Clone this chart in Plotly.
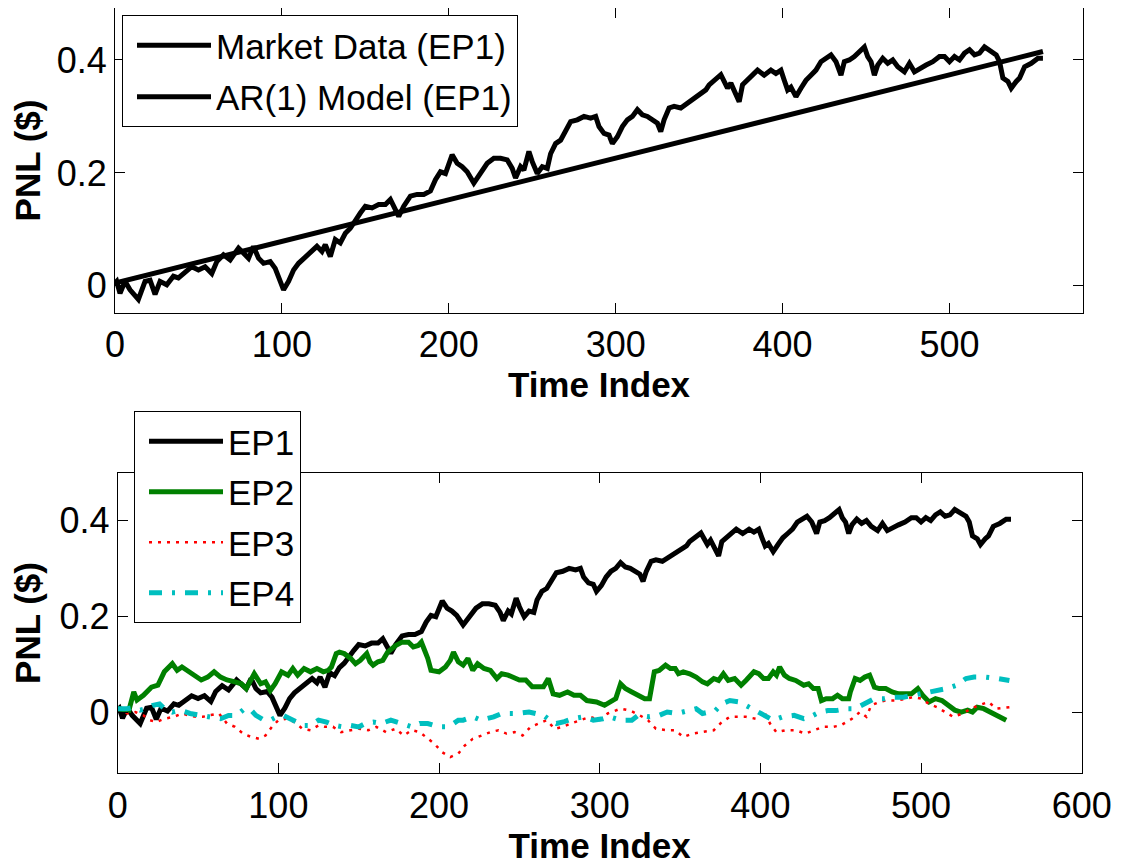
import plotly.graph_objects as go

# EP1 market PNL
ep1_t = [0, 1, 3, 6, 9, 14, 18, 21, 24, 27, 31, 35, 38, 43, 46, 50, 54, 58, 61, 65,
         69, 74, 77, 80, 83, 86, 89, 93, 96, 98, 101, 104, 107, 110, 114, 117, 121, 124, 126, 129,
         132, 135, 138, 141, 144, 147, 150, 154, 158, 162, 165, 168, 170, 173, 177, 181, 185, 189, 192, 195,
         198, 202, 205, 208, 211, 215, 219, 223, 227, 231, 235, 238, 240, 243, 245, 248, 250, 253, 256, 259,
         261, 264, 267, 270, 273, 277, 281, 285, 288, 290, 293, 296, 298, 301, 304, 307, 310, 313, 316, 319,
         322, 325, 327, 329, 332, 335, 339, 343, 347, 351, 354, 356, 360, 363, 365, 367, 369, 372, 374, 376,
         379, 382, 385, 389, 393, 396, 399, 401, 403, 405, 408, 411, 414, 417, 420, 423, 426, 429, 432, 435,
         437, 440, 443, 446, 449, 451, 453, 455, 457, 460, 463, 466, 469, 473, 476, 479, 482, 486, 490, 494,
         497, 500, 503, 506, 509, 512, 515, 518, 521, 524, 528, 530, 532, 535, 537, 540, 542, 545, 549, 553, 556]
ep1_v = [0.005, 0.008, -0.013, 0.008, -0.007, -0.024, 0.008, 0.010, -0.015, 0.008, 0.002, 0.017, 0.014, 0.028, 0.034, 0.028, 0.034, 0.022, 0.043, 0.055,
         0.046, 0.067, 0.058, 0.049, 0.070, 0.049, 0.040, 0.043, 0.031, 0.013, -0.007, 0.008, 0.028, 0.040, 0.052, 0.058, 0.070, 0.061, 0.073, 0.052,
         0.082, 0.076, 0.093, 0.102, 0.117, 0.129, 0.141, 0.138, 0.144, 0.144, 0.153, 0.132, 0.123, 0.141, 0.159, 0.162, 0.162, 0.168, 0.188, 0.202,
         0.199, 0.232, 0.217, 0.211, 0.202, 0.182, 0.199, 0.217, 0.226, 0.226, 0.223, 0.208, 0.191, 0.211, 0.205, 0.238, 0.220, 0.199, 0.211, 0.208,
         0.234, 0.252, 0.258, 0.276, 0.291, 0.294, 0.300, 0.297, 0.300, 0.282, 0.270, 0.267, 0.252, 0.264, 0.282, 0.294, 0.300, 0.312, 0.303, 0.300,
         0.294, 0.288, 0.273, 0.294, 0.315, 0.318, 0.315, 0.324, 0.332, 0.341, 0.347, 0.356, 0.365, 0.374, 0.362, 0.350, 0.359, 0.338, 0.326, 0.356,
         0.365, 0.374, 0.382, 0.373, 0.382, 0.376, 0.382, 0.364, 0.347, 0.352, 0.335, 0.350, 0.364, 0.373, 0.382, 0.397, 0.403, 0.409, 0.397, 0.373,
         0.397, 0.400, 0.406, 0.415, 0.423, 0.406, 0.397, 0.373, 0.391, 0.403, 0.394, 0.400, 0.388, 0.379, 0.394, 0.379, 0.385, 0.391, 0.397, 0.406,
         0.406, 0.397, 0.406, 0.400, 0.412, 0.418, 0.409, 0.412, 0.423, 0.418, 0.409, 0.397, 0.368, 0.362, 0.350, 0.362, 0.368, 0.388, 0.394, 0.403, 0.403]

# AR(1) model fit for EP1
ar_t = [0, 100, 200, 300, 400, 500, 556]
ar_v = [0.005, 0.079, 0.152, 0.226, 0.300, 0.374, 0.415]

ep2_t = [0, 7, 10, 12, 16, 21, 25, 29, 34, 37, 40, 44, 48, 52, 56, 60, 64, 68, 73, 77,
         80, 83, 85, 89, 92, 95, 98, 102, 106, 109, 112, 116, 120, 124, 128, 131, 133, 136, 138, 141,
         145, 148, 151, 155, 157, 159, 162, 165, 168, 173, 177, 181, 184, 187, 189, 191, 193, 195, 200, 204,
         207, 209, 212, 215, 218, 221, 224, 228, 232, 236, 239, 243, 247, 250, 254, 258, 262, 265, 268, 271,
         275, 280, 284, 288, 292, 298, 303, 307, 310, 313, 316, 320, 324, 328, 331, 334, 337, 341, 344, 347,
         349, 352, 356, 360, 364, 367, 371, 374, 377, 380, 384, 388, 391, 396, 399, 402, 405, 408, 410, 412,
         415, 418, 422, 427, 430, 433, 436, 438, 441, 445, 448, 451, 455, 456, 459, 462, 465, 468, 471, 474,
         478, 482, 486, 490, 494, 498, 501, 505, 509, 513, 517, 521, 525, 529, 532, 535, 539, 543, 547, 550, 553]
ep2_v = [0.007, 0.004, 0.042, 0.025, 0.035, 0.052, 0.056, 0.084, 0.101, 0.087, 0.094, 0.084, 0.077, 0.067, 0.073, 0.084, 0.073, 0.067, 0.063, 0.059,
         0.049, 0.070, 0.080, 0.059, 0.063, 0.045, 0.059, 0.084, 0.077, 0.091, 0.077, 0.091, 0.084, 0.091, 0.084, 0.087, 0.094, 0.122, 0.125, 0.122,
         0.112, 0.101, 0.108, 0.122, 0.105, 0.098, 0.105, 0.108, 0.125, 0.139, 0.146, 0.146, 0.136, 0.139, 0.146, 0.129, 0.112, 0.087, 0.084, 0.094,
         0.108, 0.125, 0.105, 0.098, 0.112, 0.087, 0.101, 0.091, 0.087, 0.070, 0.080, 0.077, 0.070, 0.067, 0.067, 0.053, 0.053, 0.053, 0.070, 0.038,
         0.035, 0.042, 0.035, 0.035, 0.024, 0.021, 0.014, 0.021, 0.028, 0.059, 0.049, 0.042, 0.035, 0.028, 0.028, 0.084, 0.087, 0.098, 0.091, 0.091,
         0.080, 0.084, 0.080, 0.073, 0.063, 0.059, 0.070, 0.066, 0.080, 0.066, 0.070, 0.056, 0.066, 0.084, 0.080, 0.070, 0.070, 0.084, 0.077, 0.094,
         0.077, 0.070, 0.066, 0.056, 0.059, 0.049, 0.049, 0.024, 0.028, 0.028, 0.035, 0.028, 0.028, 0.042, 0.070, 0.066, 0.073, 0.077, 0.052, 0.049,
         0.049, 0.042, 0.038, 0.038, 0.038, 0.049, 0.035, 0.021, 0.028, 0.024, 0.014, 0.004, 0.000, 0.004, 0.000, 0.010, 0.007, 0.000, -0.007, -0.014, -0.017]

ep3_t = [0, 6, 11, 16, 20, 24, 29, 35, 40, 44, 49, 53, 57, 63, 68, 73, 78, 83, 88, 92,
         96, 100, 105, 110, 115, 120, 125, 129, 134, 139, 145, 150, 156, 161, 167, 173, 178, 183, 188, 193,
         197, 202, 207, 212, 216, 221, 227, 232, 237, 242, 247, 252, 257, 262, 267, 272, 277, 282, 288, 294,
         300, 305, 313, 319, 325, 330, 335, 342, 347, 352, 358, 365, 371, 376, 381, 386, 391, 397, 402, 406,
         410, 416, 422, 428, 433, 439, 445, 450, 457, 462, 466, 469, 474, 478, 485, 490, 495, 500, 505, 510,
         515, 520, 526, 531, 536, 542, 547, 555]
ep3_v = [0.007, -0.003, 0.000, -0.007, -0.017, -0.021, -0.014, -0.010, -0.003, -0.007, -0.010, -0.010, -0.007, -0.003, -0.024, -0.031, -0.045, -0.052, -0.056, -0.049,
         -0.031, -0.017, -0.014, -0.021, -0.035, -0.038, -0.028, -0.031, -0.031, -0.042, -0.038, -0.035, -0.038, -0.031, -0.042, -0.035, -0.049, -0.038, -0.042, -0.056,
         -0.066, -0.084, -0.094, -0.087, -0.070, -0.056, -0.049, -0.042, -0.038, -0.045, -0.042, -0.049, -0.031, -0.024, -0.017, -0.035, -0.031, -0.024, -0.017, -0.010,
         -0.017, -0.003, 0.007, 0.003, -0.007, -0.017, -0.035, -0.038, -0.038, -0.052, -0.045, -0.042, -0.038, -0.021, -0.010, -0.010, -0.010, -0.014, 0.003, -0.024,
         -0.042, -0.038, -0.038, -0.045, -0.038, -0.031, -0.031, -0.028, -0.014, 0.000, -0.010, 0.014, 0.021, 0.024, 0.024, 0.028, 0.031, 0.028, 0.017, 0.010,
         0.000, -0.010, -0.003, 0.007, 0.014, 0.021, 0.007, 0.010]

ep4_t = [0, 6, 10, 14, 18, 22, 26, 29, 34, 39, 45, 51, 57, 64, 69, 74, 79, 83, 86, 91,
         95, 99, 103, 107, 111, 116, 120, 125, 130, 135, 140, 145, 150, 154, 159, 164, 170, 174, 178, 183,
         188, 193, 200, 205, 209, 212, 215, 221, 226, 230, 234, 239, 244, 249, 256, 261, 265, 269, 273, 278,
         283, 290, 296, 302, 306, 313, 320, 324, 331, 337, 342, 348, 354, 360, 364, 372, 376, 381, 387, 391,
         398, 404, 408, 414, 421, 427, 431, 437, 442, 447, 454, 459, 465, 471, 477, 482, 489, 495, 501, 506,
         512, 516, 522, 528, 533, 540, 548, 555]
ep4_v = [0.007, 0.007, 0.010, 0.004, 0.007, 0.014, 0.017, 0.007, 0.000, 0.004, -0.003, -0.007, -0.010, -0.014, -0.007, -0.007, 0.007, 0.004, -0.007, -0.017,
         -0.017, -0.010, -0.007, -0.014, -0.021, -0.028, -0.028, -0.017, -0.021, -0.028, -0.031, -0.028, -0.031, -0.024, -0.021, -0.024, -0.017, -0.021, -0.024, -0.031,
         -0.024, -0.024, -0.031, -0.031, -0.024, -0.017, -0.017, -0.010, -0.017, -0.014, -0.010, -0.003, -0.003, -0.003, 0.000, -0.003, -0.007, -0.017, -0.024, -0.020,
         -0.014, -0.010, -0.017, -0.014, -0.010, -0.017, -0.017, -0.007, -0.010, -0.007, 0.000, -0.003, 0.003, 0.007, -0.003, 0.003, 0.017, 0.024, 0.021, 0.014,
         0.000, -0.010, -0.017, -0.010, -0.007, -0.014, -0.010, 0.000, 0.003, 0.003, 0.007, 0.007, 0.017, 0.028, 0.028, 0.031, 0.031, 0.035, 0.038, 0.042,
         0.045, 0.049, 0.056, 0.070, 0.073, 0.073, 0.070, 0.066]

FONT = "Liberation Sans, Arial, sans-serif"
W, H = 1121, 865
OFF = 8  # page body margin in front of the figure


def fx(px):
    return (px - OFF) / W


def fy(py):
    return min(1.0, 1 - (py - OFF) / H)


fig = go.Figure()

# top panel
fig.add_trace(go.Scatter(x=ep1_t, y=ep1_v, mode='lines', name='Market Data (EP1)',
                         line=dict(color='black', width=5), legendgroup='a', legend='legend',
                         xaxis='x', yaxis='y'))
fig.add_trace(go.Scatter(x=ar_t, y=ar_v, mode='lines', name='AR(1) Model (EP1)',
                         line=dict(color='black', width=5), legendgroup='b', legend='legend',
                         xaxis='x', yaxis='y'))

# bottom panel
fig.add_trace(go.Scatter(x=ep1_t, y=ep1_v, mode='lines', name='EP1',
                         line=dict(color='black', width=5), legendgroup='c', legend='legend2',
                         xaxis='x2', yaxis='y2'))
fig.add_trace(go.Scatter(x=ep2_t, y=ep2_v, mode='lines', name='EP2',
                         line=dict(color='#008000', width=5), legendgroup='d', legend='legend2',
                         xaxis='x2', yaxis='y2'))
fig.add_trace(go.Scatter(x=ep3_t, y=ep3_v, mode='lines', name='EP3',
                         line=dict(color='#ff0000', width=2.5, dash='3px,6px'), legendgroup='e', legend='legend2',
                         xaxis='x2', yaxis='y2'))
fig.add_trace(go.Scatter(x=ep4_t, y=ep4_v, mode='lines', name='EP4',
                         line=dict(color='#00bfbf', width=5, dash='13px,10px,3px,10px'), legendgroup='f', legend='legend2',
                         xaxis='x2', yaxis='y2'))

axis_style = dict(showline=True, linecolor='black', linewidth=1, mirror='ticks',
                  ticks='inside', ticklen=10, tickcolor='black', tickwidth=1,
                  showgrid=False, zeroline=False, automargin=False,
                  tickfont=dict(family=FONT, size=36, color='black'))
title_font = dict(family=FONT, size=35, color='black', weight='bold')

legend_style = dict(xanchor='left', yanchor='top', bgcolor='white',
                    bordercolor='black', borderwidth=1,
                    font=dict(family=FONT, size=35, color='black'),
                    traceorder='grouped', itemwidth=74, indentation=9)

fig.update_layout(
    width=W, height=H,
    margin=dict(l=0, r=0, t=0, b=0, autoexpand=False),
    paper_bgcolor='white', plot_bgcolor='white',
    xaxis=dict(domain=[fx(115), fx(1083)], range=[0, 580], anchor='y',
               tickvals=[0, 100, 200, 300, 400, 500],
               title=dict(text='Time Index', font=title_font, standoff=4), **axis_style),
    yaxis=dict(domain=[fy(313), fy(8)], range=[-0.048, 0.492], anchor='x',
               tickvals=[0, 0.2, 0.4], ticktext=['0', '0.2', '0.4'],
               title=dict(text='PNL ($)', font=title_font, standoff=8), **axis_style),
    xaxis2=dict(domain=[fx(117.7), fx(1081.7)], range=[0, 600], anchor='y2',
                tickvals=[0, 100, 200, 300, 400, 500, 600],
                title=dict(text='Time Index', font=title_font, standoff=4), **axis_style),
    yaxis2=dict(domain=[fy(773.3), fy(472.7)], range=[-0.128, 0.5], anchor='x2',
                tickvals=[0, 0.2, 0.4], ticktext=['0', '0.2', '0.4'],
                title=dict(text='PNL ($)', font=title_font, standoff=8), **axis_style),
    legend=dict(x=fx(122), y=fy(15), tracegroupgap=3, entrywidth=400, **legend_style),
    legend2=dict(x=fx(134), y=fy(411), tracegroupgap=2, entrywidth=165, **legend_style),
)

fig.write_html("out.html")
